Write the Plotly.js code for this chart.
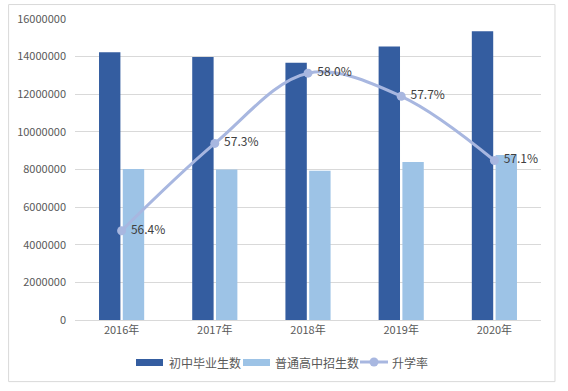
<!DOCTYPE html>
<html><head><meta charset="utf-8">
<script src="https://cdn.plot.ly/plotly-3.0.1.min.js"></script>
<style>html,body{margin:0;padding:0;background:#fff}#c{width:568px;height:391px}</style>
</head><body><div id="c"></div>
<script>
const years = ['2016年','2017年','2018年','2019年','2020年'];
const graduates = [14239000, 13975000, 13678000, 14541000, 15353000];
const enrollment = [8029200, 8000500, 7927100, 8394900, 8764400];
const rate = [56.39, 57.26, 57.96, 57.73, 57.09];
const yTicks = [0,2000000,4000000,6000000,8000000,10000000,12000000,14000000,16000000];
const seriesNames = ['初中毕业生数','普通高中招生数','升学率'];
const colors = ['#345DA0','#9DC3E6','#A8B7E0'];

const font = 'Microsoft YaHei, "Noto Sans CJK SC", "Noto Sans", sans-serif';
const traces = [
  {type:'bar', name:seriesNames[0], x:years, y:graduates, marker:{color:colors[0]}},
  {type:'bar', name:seriesNames[1], x:years, y:enrollment, marker:{color:colors[1]}},
  {type:'scatter', mode:'lines+markers+text', name:seriesNames[2], x:years, y:rate, yaxis:'y2',
   line:{color:colors[2], width:3, shape:'spline', smoothing:1},
   marker:{color:colors[2], size:9},
   text: rate.map(v => ' ' + v.toFixed(1)+'%'), textposition:'middle right',
   textfont:{size:12, color:'#404040', family:font}}
];

// custom legend (wide swatches like the original)
const W = 466, H = 301;
const px = v => (v-75)/W, py = v => (320-v)/H;
const legY = 362;
const shapes = [
  {type:'rect', xref:'paper', yref:'paper', x0:-0.1425, x1:1.030, y0:-0.2047, y1:1.048,
   line:{color:'#D9D9D9', width:1}, fillcolor:'rgba(0,0,0,0)', layer:'below'},
  {type:'rect', xref:'paper', yref:'paper', x0:px(136), x1:px(163), y0:py(366), y1:py(359),
   line:{width:0}, fillcolor:colors[0]},
  {type:'rect', xref:'paper', yref:'paper', x0:px(243), x1:px(270), y0:py(366), y1:py(359),
   line:{width:0}, fillcolor:colors[1]},
  {type:'line', xref:'paper', yref:'paper', x0:px(360), x1:px(388), y0:py(legY), y1:py(legY),
   line:{color:colors[2], width:3}},
  {type:'circle', xref:'paper', yref:'paper', xsizemode:'pixel', ysizemode:'pixel',
   xanchor:px(374), yanchor:py(legY), x0:-4.5, x1:4.5, y0:-4.5, y1:4.5,
   line:{width:0}, fillcolor:colors[2]}
];
const legText = [[167,0],[273,1],[390,2]].map(([x,i]) => ({
  xref:'paper', yref:'paper', x:px(x), y:py(legY), xanchor:'left', yanchor:'middle',
  text:seriesNames[i], showarrow:false, font:{size:12, color:'#595959', family:font}
}));

const layout = {
  width:568, height:391,
  margin:{l:75, r:27, t:19, b:71},
  paper_bgcolor:'#fff', plot_bgcolor:'#fff',
  font:{family:font, size:11, color:'#595959'},
  barmode:'group', bargap:0.49, bargroupgap:0.1,
  showlegend:false,
  xaxis:{type:'category', showgrid:false, showline:true, linecolor:'#D9D9D9', linewidth:1,
         ticks:'', tickfont:{size:11, color:'#595959'}},
  yaxis:{range:[0,16000000], tickvals:yTicks, ticktext:yTicks.map(String),
         showgrid:true, gridcolor:'#D9D9D9', gridwidth:1, zeroline:false,
         showline:false, ticks:'', ticklabelstandoff:8, tickfont:{size:11, color:'#595959'}},
  yaxis2:{range:[55.5,58.5], overlaying:'y', side:'right', visible:false},
  shapes:shapes,
  annotations:legText
};
Plotly.newPlot('c', traces, layout, {displayModeBar:false, staticPlot:true});
</script></body></html>
